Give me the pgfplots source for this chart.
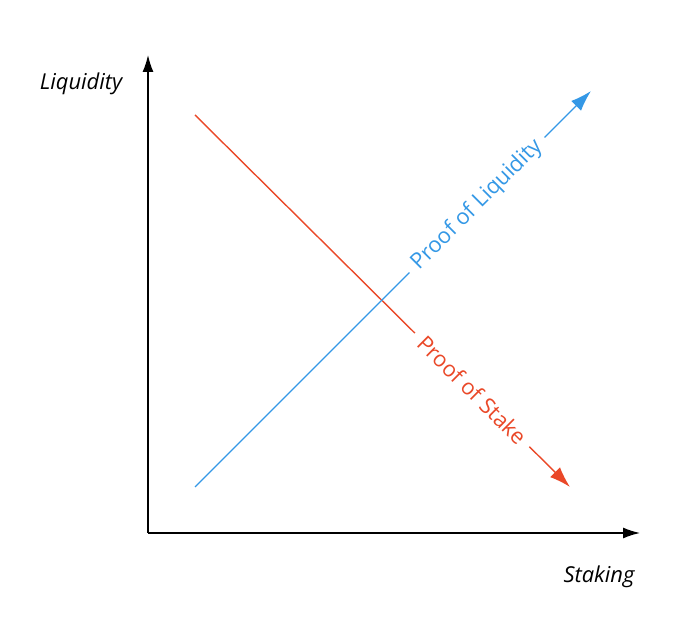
\documentclass[border=0pt]{standalone}
\usepackage{pgfplots}
\pgfplotsset{compat=1.18}
\usepackage{fontspec}
\setmainfont{Open Sans}
\usetikzlibrary{arrows.meta}
\definecolor{liqblue}{RGB}{52,152,230}
\definecolor{stakered}{RGB}{234,72,40}
\begin{document}
\begin{tikzpicture}
\useasboundingbox (0,0) rectangle (700bp,629bp);
\begin{axis}[
    at={(148bp,96bp)}, anchor=south west,
    scale only axis, width=492bp, height=478bp,
    xmin=0, xmax=492, ymin=0, ymax=478,
    axis lines=left,
    axis line style={line width=1.5bp, -{Latex[length=17bp,width=11bp]}},
    xtick=\empty, ytick=\empty,
    clip=false,
    font=\fontsize{22}{26}\selectfont,
]
    % proof of stake (falls)
    \addplot[stakered, line width=1.4bp, -{Latex[length=21bp,width=14bp]}]
        coordinates {(47,418) (422,46)}
        node[pos=0.739, sloped, fill=white, inner xsep=9bp, text=stakered] {Proof of Stake};
    % proof of liquidity (rises)
    \addplot[liqblue, line width=1.4bp, -{Latex[length=21bp,width=14bp]}]
        coordinates {(47,46) (443,442)}
        node[pos=0.712, sloped, fill=white, inner xsep=8bp, text=liqblue] {Proof of Liquidity};
    \node at (axis cs:-67,449) {\itshape Liquidity};
    \node at (axis cs:451,-44) {\itshape Staking};
\end{axis}
\end{tikzpicture}
\end{document}
